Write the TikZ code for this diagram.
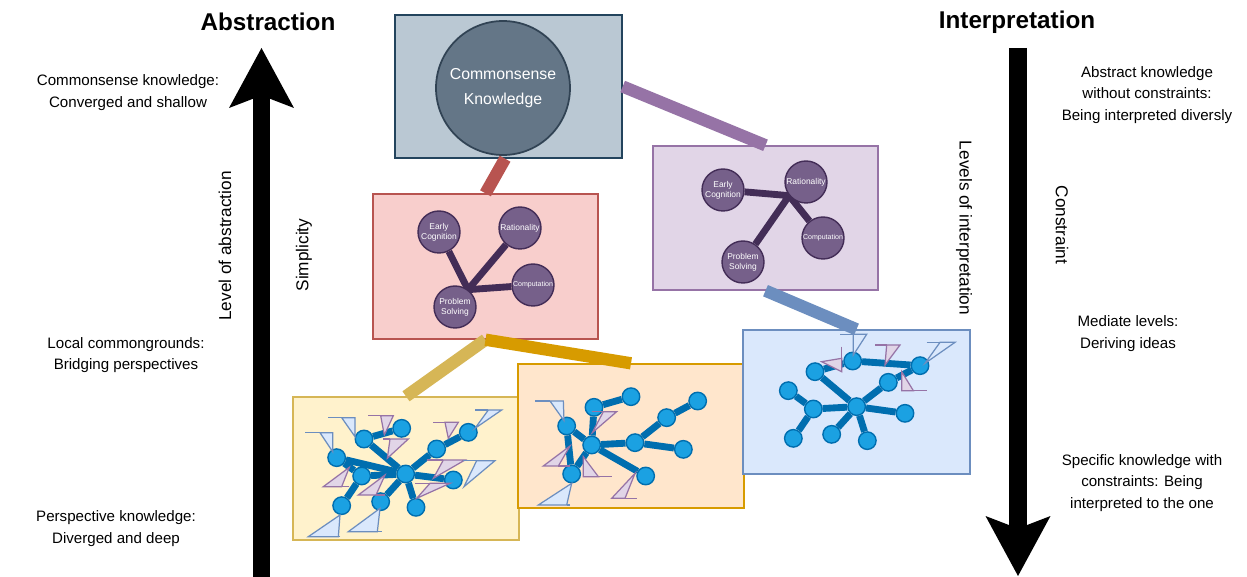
\documentclass[tikz,border=0pt]{standalone}
\usepackage{fontspec}
\setmainfont{Liberation Sans}
\usetikzlibrary{calc, positioning}
\usetikzlibrary{arrows.meta}
\pgfdeclarelayer{canvas}
\pgfdeclarelayer{panels}
\pgfdeclarelayer{links}
\pgfsetlayers{canvas,panels,links,main}
\definecolor{csfill}{HTML}{BAC8D3}
\definecolor{csline}{HTML}{23445D}
\definecolor{cskfill}{HTML}{647687}
\definecolor{cskline}{HTML}{314354}
\definecolor{redfill}{HTML}{F8CECC}
\definecolor{redline}{HTML}{B85450}
\definecolor{purpfill}{HTML}{E1D5E7}
\definecolor{purpline}{HTML}{9673A6}
\definecolor{yelfill}{HTML}{FFF2CC}
\definecolor{yelline}{HTML}{D6B656}
\definecolor{orafill}{HTML}{FFE6CC}
\definecolor{oraline}{HTML}{D79B00}
\definecolor{blufill}{HTML}{DAE8FC}
\definecolor{bluline}{HTML}{6C8EBF}
\definecolor{ideafill}{HTML}{76608A}
\definecolor{idealine}{HTML}{432D57}
\definecolor{dotfill}{HTML}{1BA1E2}
\definecolor{dotline}{HTML}{006EAF}
% pennant: tail, then the three corners of the triangle
\newcommand\flag[5]{
    \filldraw[#1] #3 -- #4 -- #5 -- cycle;
    \draw[#1] #2 -- #3;
    }
\tikzset{
    panel/.style = {
        draw, rectangle, line width=0.8pt, inner sep=0pt
    },
    bridge/.style = {line width=7pt},
    idea/.style = {
        circle, draw=idealine, fill=ideafill, line width=0.8pt, minimum size=0.84cm,
        inner sep=0pt, text=white, align=center, font=\fontsize{4.8}{5.8}\selectfont
    },
    tie/.style = {line width=3.9pt, draw=idealine},
    dot/.style = {
        circle, draw=dotline, fill=dotfill, line width=0.8pt, minimum size=0.35cm, inner sep=0pt
    },
    net/.style = {line width=3.9pt, draw=dotline},
    bflag/.style = {draw=bluline, fill=blufill, line width=0.7pt},
    pflag/.style = {draw=purpline, fill=purpfill, line width=0.7pt},
    side/.style = {align=center, font=\fontsize{8.6}{12.2}\selectfont},
    tag/.style = {font=\fontsize{9.8}{12}\selectfont},
    heading/.style = {font=\fontsize{13.8}{16}\selectfont\bfseries},
    axis/.style = {line width=0.35cm, -{Stealth[length=1.2cm, width=1.3cm, inset=0.25cm, line width=0pt]}},
}

\begin{document}
\begin{tikzpicture}[x=0.02cm, y=-0.02cm]
        \begin{pgfonlayer}{canvas}
            \fill[white] (0,0) rectangle (1247,577);
        \end{pgfonlayer}
        \useasboundingbox (0,0) rectangle (1247,577);

        % Headings and side texts
        \node[heading] (abs) at (268,22) {Abstraction};
        \node[heading] (int) at (1017,22) {Interpretation};
        \node[side] (l-top) at (128,92.5) {Commonsense knowledge:\\Converged and shallow};
        \node[side] (l-mid) at (126,355) {Local commongrounds:\\Bridging perspectives};
        \node[side] (l-bot) at (116,528.5) {Perspective knowledge:\\Diverged and deep};
        \node[side] (r-top) at (1147,95) {Abstract knowledge\\without constraints:\\Being interpreted diversly};
        \node[side] (r-mid) at (1128,333.5) {Mediate levels:\\Deriving ideas};
        \node[side] (r-bot) at (1142,483) {Specific knowledge with\\constraints: Being\\interpreted to the one};
        \node[tag, rotate=90] (lvl-abs) at (225,246) {Level of abstraction};
        \node[tag, rotate=90] (simp) at (304,255) {Simplicity};
        \node[tag, rotate=-90] (lvl-int) at (964,228) {Levels of interpretation};
        \node[tag, rotate=-90] (constr) at (1062,225) {Constraint};

        % Axes
        \coordinate (abs-tail) at (261.5,577);
        \coordinate (abs-head) at (261.5,48);
        \coordinate (int-tail) at (1018,48);
        \coordinate (int-head) at (1018,576);
        \draw[axis] (abs-tail) -- (abs-head);
        \draw[axis] (int-tail) -- (int-head);

        % Panels
        \begin{pgfonlayer}{panels}
            \node[panel, fill=csfill, draw=csline, minimum width=4.54cm, minimum height=2.86cm] (cs) at (508.5,86.5) {};
            \node[panel, fill=redfill, draw=redline, minimum width=4.5cm, minimum height=2.9cm] (rb) at (485.5,266.5) {};
            \node[panel, fill=purpfill, draw=purpline, minimum width=4.5cm, minimum height=2.88cm] (pb) at (765.5,218) {};
            \node[panel, fill=yelfill, draw=yelline, minimum width=4.52cm, minimum height=2.86cm] (yb) at (406,468.5) {};
            \node[panel, fill=orafill, draw=oraline, minimum width=4.52cm, minimum height=2.88cm] (ob) at (631,436) {};
            \node[panel, fill=blufill, draw=bluline, minimum width=4.54cm, minimum height=2.88cm] (bb) at (856.5,402) {};
        \end{pgfonlayer}

        % Commonsense circle
        \node[circle, fill=cskfill, draw=cskline, line width=1pt, minimum size=2.68cm, inner sep=0pt,
            text=white, align=center, font=\fontsize{9}{14}\selectfont] (csk) at (503,88) {Commonsense\\Knowledge};

        % Bridges between panels
        \draw[bridge, draw=redline] ($(cs.south west)!0.485!(cs.south east)$) -- (rb.north);
        \draw[bridge, draw=purpline] (cs.east) -- (pb.north);
        \draw[bridge, draw=bluline] (pb.south) -- (bb.north);
        \draw[bridge, draw=yelline] (yb.north) -- (rb.south);
        \draw[bridge, draw=oraline] (rb.south) -- (ob.north);

        % Idea maps
        \node[idea] (r-ec) at (439,232) {Early\\Cognition};
        \node[idea] (r-ra) at (520,228) {Rationality};
        \node[idea, font=\fontsize{4}{5}\selectfont] (r-co) at (533,285) {Computation};
        \node[idea] (r-ps) at (455,307) {Problem\\Solving};
        \node[idea] (p-ec) at (723,190) {Early\\Cognition};
        \node[idea] (p-ra) at (806,182) {Rationality};
        \node[idea, font=\fontsize{4}{5}\selectfont] (p-co) at (823,238) {Computation};
        \node[idea] (p-ps) at (743,262) {Problem\\Solving};
        \begin{pgfonlayer}{links}
            \foreach \x in {ec, ra, co}{
                \draw[tie] (r-ps.53) -- (r-\x);
            }
            \foreach \x in {ec, co, ps}{
                \draw[tie] (p-ra.219) -- (p-\x);
            }
        \end{pgfonlayer}

        % Yellow network
        \begin{scope}[shift={(290,390)}, scale=1/3]
            \foreach \n/\px/\py in {a/335/115, b/222/147, c/140/203, d/215/258, e/155/347, f/272/335,
                g/347/252, h/378/352, i/490/270, j/440/177, k/535/127}{
                \node[dot] (y-\n) at (\px,\py) {};
            }
            \begin{pgfonlayer}{links}
                \foreach \u/\v in {a/b, b/g, c/g, c/d, d/g, d/e, f/g, g/h, g/i, g/j, j/k}{
                    \draw[net] (y-\u) -- (y-\v);
                }
            \end{pgfonlayer}
            \flag{bflag}{(115,83)}{(155,83)}{(195,83)}{(195,140)}
            \flag{bflag}{(45,128)}{(90,128)}{(128,128)}{(128,185)}
            \flag{pflag}{(235,77)}{(272,77)}{(310,77)}{(283,135)}
            \flag{pflag}{(280,147)}{(300,147)}{(355,147)}{(292,205)}
            \flag{pflag}{(430,97)}{(465,97)}{(505,97)}{(475,145)}
            \flag{bflag}{(555,60)}{(595,60)}{(635,60)}{(555,115)}
            \flag{pflag}{(178,290)}{(155,290)}{(100,290)}{(178,232)}
            \flag{pflag}{(285,315)}{(258,315)}{(205,315)}{(285,255)}
            \flag{pflag}{(410,210)}{(460,210)}{(525,210)}{(430,265)}
            \flag{pflag}{(375,280)}{(420,280)}{(480,280)}{(380,325)}
            \flag{bflag}{(520,212)}{(560,212)}{(615,212)}{(522,290)}
            \flag{bflag}{(150,440)}{(145,440)}{(55,440)}{(150,375)}
            \flag{bflag}{(275,425)}{(262,425)}{(175,425)}{(270,355)}
        \end{scope}

        % Orange network
        \begin{scope}[shift={(515,360)}, scale=1/3]
            \foreach \n/\px/\py in {a/348/110, b/237/142, c/155/198, d/230/255, e/170/342, f/392/348,
                g/360/248, h/505/268, i/455/173, j/548/123}{
                \node[dot] (o-\n) at (\px,\py) {};
            }
            \begin{pgfonlayer}{links}
                \foreach \u/\v in {a/b, b/d, c/d, c/e, d/e, d/g, d/f, g/h, g/i, i/j}{
                    \draw[net] (o-\u) -- (o-\v);
                }
            \end{pgfonlayer}
            \flag{bflag}{(60,123)}{(105,123)}{(145,123)}{(147,182)}
            \flag{pflag}{(230,155)}{(265,155)}{(305,155)}{(232,218)}
            \flag{pflag}{(165,318)}{(130,318)}{(85,318)}{(165,258)}
            \flag{pflag}{(290,350)}{(250,350)}{(205,350)}{(205,290)}
            \flag{pflag}{(365,415)}{(330,415)}{(290,415)}{(360,340)}
            \flag{bflag}{(165,435)}{(155,435)}{(70,435)}{(170,370)}
        \end{scope}

        % Blue network
        \begin{scope}[shift={(740,325)}, scale=1/3]
            \foreach \n/\px/\py in {a/338/108, b/225/140, c/145/197, d/220/252, e/160/340, f/275/328,
                g/350/245, h/382/347, i/495/265, j/445/172, k/540/122}{
                \node[dot] (b-\n) at (\px,\py) {};
            }
            \begin{pgfonlayer}{links}
                \foreach \u/\v in {a/b, b/g, c/d, d/g, d/e, f/g, g/h, g/i, g/j, j/k, a/k}{
                    \draw[net] (b-\u) -- (b-\v);
                }
            \end{pgfonlayer}
            \flag{bflag}{(300,28)}{(340,28)}{(380,28)}{(340,90)}
            \flag{pflag}{(305,65)}{(305,100)}{(245,110)}{(305,140)}
            \flag{pflag}{(405,60)}{(440,60)}{(480,60)}{(435,120)}
            \flag{bflag}{(560,52)}{(600,52)}{(645,52)}{(555,115)}
            \flag{pflag}{(560,197)}{(520,197)}{(485,197)}{(485,140)}
        \end{scope}
    \end{tikzpicture}
\end{document}
